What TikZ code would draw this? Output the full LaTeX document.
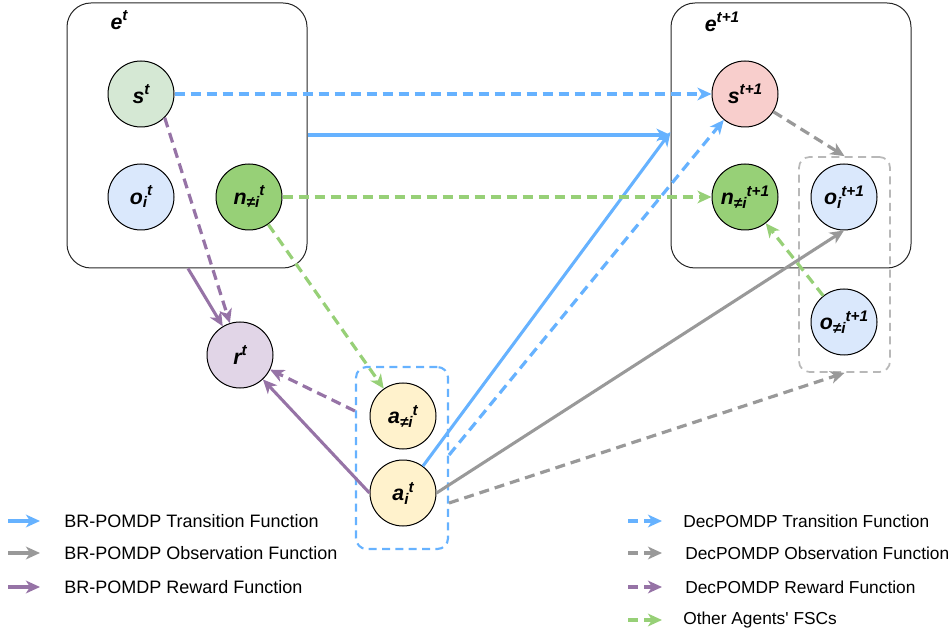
\documentclass[tikz,border=0pt]{standalone}
\usepackage{fontspec}
\setmainfont{Liberation Sans}
\usetikzlibrary{arrows.meta}
\definecolor{cblue}{HTML}{66B2FF}
\definecolor{cgray}{HTML}{999999}
\definecolor{cpurple}{HTML}{9673A6}
\definecolor{cgreen}{HTML}{97D077}
\definecolor{fgreenl}{HTML}{D5E8D4}
\definecolor{fblue}{HTML}{DAE8FC}
\definecolor{fgreen}{HTML}{97D077}
\definecolor{fred}{HTML}{F8CECC}
\definecolor{fpurple}{HTML}{E1D5E7}
\definecolor{fyellow}{HTML}{FFF2CC}
\newcommand{\nlfont}{\fontsize{16}{18}\selectfont\bfseries\itshape}
\newcommand{\legfont}{\fontsize{13.5}{16}\selectfont}
\newcommand{\legfontr}{\fontsize{13}{16}\selectfont}
\newcommand{\lsub}[1]{\raisebox{-2.5pt}{\fontsize{11.5}{12}\selectfont #1}}
\newcommand{\lsup}[1]{\raisebox{6.5pt}{\fontsize{11.5}{12}\selectfont #1}}
\tikzset{
  var/.style={circle, draw=black, line width=0.75pt, minimum size=49.5pt, inner sep=0pt, font=\nlfont},
  envbox/.style={draw=black!85, line width=0.75pt, rounded corners=18pt, minimum width=180pt, minimum height=198.75pt, inner sep=0pt},
  grpbox/.style={dashed, dash pattern=on 6pt off 4pt, rounded corners=8pt, inner sep=0pt},
  tipa/.style={-{Stealth[length=10.5pt,width=9.5pt,inset=3pt]}},
  sol/.style={tipa, line width=2.3pt},
  dsh/.style={tipa, line width=2.4pt, dash pattern=on 7.5pt off 4.5pt},
}
\begin{document}
\begin{tikzpicture}[x=0.75pt,y=-0.75pt]
\useasboundingbox (0,0) rectangle (949,634);
% environment boxes
\node[envbox] (et) at (187,135.5) {};
\node[envbox] (etn) at (791,135.5) {};
\node[font=\nlfont] (etl) at (119,20) {e\lsup{t}};
\node[font=\nlfont] (etnl) at (722,22) {e\lsup{t+1}};
% group boxes
\node[grpbox, draw=cgray!70, line width=1.3pt, minimum width=68.25pt, minimum height=161.25pt] (gbox) at (844.5,264.5) {};
\node[grpbox, draw=cblue, line width=1.6pt, minimum width=69pt, minimum height=136.5pt] (bbox) at (402,458) {};
% variables
\node[var, fill=fgreenl] (st) at (141,94) {s\lsup{t}};
\node[var, fill=fblue] (oit) at (141,197) {o\lsub{i}\lsup{t}};
\node[var, fill=fgreen] (nt) at (249,197) {n\lsub{≠i}\lsup{t}};
\node[var, fill=fred] (stn) at (745,94) {s\lsup{t+1}};
\node[var, fill=fgreen] (ntn) at (745,197) {n\lsub{≠i}\lsup{t+1}};
\node[var, fill=fblue] (oitn) at (844,197) {o\lsub{i}\lsup{t+1}};
\node[var, fill=fblue] (ontn) at (844,322) {o\lsub{≠i}\lsup{t+1}};
\node[var, fill=fpurple] (rt) at (240,355) {r\lsup{t}};
\node[var, fill=fyellow] (ant) at (403,416) {a\lsub{≠i}\lsup{t}};
\node[var, fill=fyellow] (ait) at (403,493) {a\lsub{i}\lsup{t}};
% anchor coordinates
\coordinate (etR) at (et.east |- 0,135);
\coordinate (etnL) at (etn.west |- 0,135);
\coordinate (etnL2) at (etn.west |- 0,132);
\coordinate (etB) at (et.south -| 188,0);
\coordinate (bbR1) at (bbox.east |- 0,455);
\coordinate (bbR2) at (bbox.east |- 0,503);
\coordinate (bbL) at (bbox.west |- 0,411);
% blue
\draw[dsh, cblue] (st) -- (stn);
\draw[sol, cblue] (etR) -- (etnL);
\draw[sol, cblue] (ait) -- (etnL2);
\draw[dsh, cblue] (bbR1) -- (stn);
% gray
\draw[dsh, cgray] (stn) -- (gbox.north);
\draw[sol, cgray] (ait.east) -- (oitn.south);
\draw[dsh, cgray] (bbR2) -- (gbox.south);
% green
\draw[dsh, cgreen] (nt) -- (ntn);
\draw[dsh, cgreen] (nt) -- (ant);
\draw[dsh, cgreen] (ontn) -- (ntn);
% purple
\draw[sol, cpurple] (etB) -- (rt);
\draw[dsh, cpurple] (st.-45) -- (rt);
\draw[sol, cpurple] (ait.west) -- (rt);
\draw[dsh, cpurple] (bbL) -- (rt);
% legend left
\coordinate (la1) at (8,521); \coordinate (lb1) at (40,521);
\coordinate (la2) at (8,553); \coordinate (lb2) at (40,553);
\coordinate (la3) at (8,587); \coordinate (lb3) at (40,587);
\draw[sol, cblue] (la1) -- (lb1);
\draw[sol, cgray] (la2) -- (lb2);
\draw[sol, cpurple] (la3) -- (lb3);
\node[anchor=west, font=\legfont, inner sep=0pt] (lt1) at (64,521) {BR-POMDP Transition Function};
\node[anchor=west, font=\legfont, inner sep=0pt] (lt2) at (64,553) {BR-POMDP Observation Function};
\node[anchor=west, font=\legfont, inner sep=0pt] (lt3) at (64,587) {BR-POMDP Reward Function};
% legend right
\coordinate (ra1) at (628,521); \coordinate (rb1) at (662,521);
\coordinate (ra2) at (628,553); \coordinate (rb2) at (662,553);
\coordinate (ra3) at (628,587); \coordinate (rb3) at (662,587);
\coordinate (ra4) at (628,620); \coordinate (rb4) at (662,620);
\draw[dsh, cblue] (ra1) -- (rb1);
\draw[dsh, cgray] (ra2) -- (rb2);
\draw[dsh, cpurple] (ra3) -- (rb3);
\draw[dsh, cgreen] (ra4) -- (rb4);
\node[anchor=west, font=\legfontr, inner sep=0pt] (rt1) at (683,521) {DecPOMDP Transition Function};
\node[anchor=west, font=\legfontr, inner sep=0pt] (rt2) at (685,553) {DecPOMDP Observation Function};
\node[anchor=west, font=\legfontr, inner sep=0pt] (rt3) at (685,587) {DecPOMDP Reward Function};
\node[anchor=west, font=\legfontr, inner sep=0pt] (rt4) at (683,620) {Other Agents\textquotesingle{} FSCs};
\end{tikzpicture}
\end{document}
